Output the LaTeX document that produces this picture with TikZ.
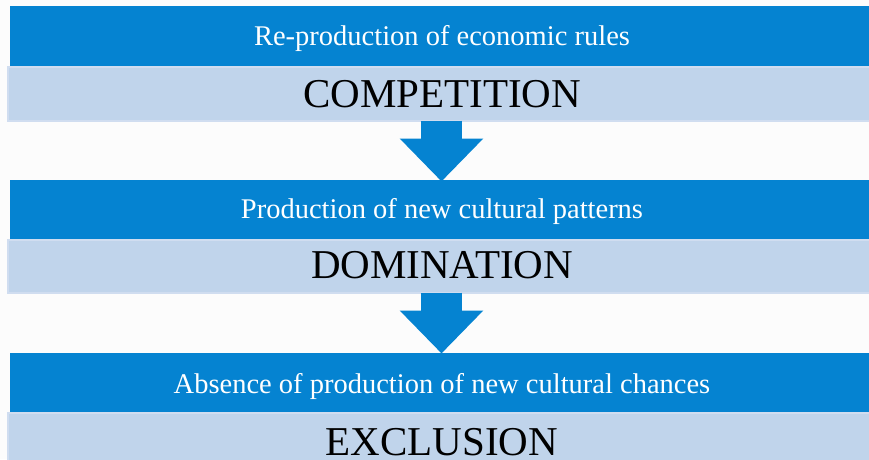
\documentclass[tikz,border=0pt]{standalone}
\usepackage{fontspec}
\setmainfont{Liberation Serif}
\usetikzlibrary{arrows.meta}
\definecolor{barblue}{RGB}{5,131,209}
\definecolor{barlight}{RGB}{192,212,235}
\definecolor{barline}{RGB}{208,221,240}
\definecolor{bg}{RGB}{252,252,252}
\tikzset{
  bluebar/.style={fill=barblue, draw=none, minimum width=864pt, inner sep=0pt, anchor=north},
  lightbar/.style={fill=barlight, draw=barline, line width=1.5pt, minimum width=868pt, inner sep=0pt, anchor=north},
  smalltext/.style={text=white, font=\fontsize{28.5}{30}\selectfont, anchor=base, inner sep=0pt},
  bigtext/.style={text=black, font=\fontsize{41}{44}\selectfont, anchor=base, inner sep=0pt},
  downarrow/.style={draw=barblue, line width=41pt, -{Triangle[width=81pt,length=43pt]}, shorten >=-0.5pt}
}
\begin{document}
\begin{tikzpicture}[x=1pt,y=-1pt]
\clip (0,0) rectangle (869,459);
\fill[bg] (0,0) rectangle (869,459);
% block 1
\node[lightbar, minimum height=54pt] (l1) at (442,66) {};
\node[bluebar, minimum height=60pt] (b1) at (442,6) {};
\node[smalltext] (t1) at (442,45) {Re-production of economic rules};
\node[bigtext] (c1) at (442,107) {COMPETITION};
% block 2
\node[lightbar, minimum height=53pt] (l2) at (442,239) {};
\node[bluebar, minimum height=59pt] (b2) at (442,180) {};
\node[smalltext] (t2) at (442,218) {Production of new cultural patterns};
\node[bigtext] (c2) at (442,278) {DOMINATION};
% block 3
\node[lightbar, minimum height=60pt] (l3) at (442,412) {};
\node[bluebar, minimum height=59pt] (b3) at (442,353) {};
\node[smalltext] (t3) at (442,393) {Absence of production of new cultural chances};
\node[bigtext] (c3) at (442,455) {EXCLUSION};
% arrows
\coordinate (a1s) at (441.5,120.5);
\coordinate (a1e) at (441.5,181);
\coordinate (a2s) at (441.5,292.5);
\coordinate (a2e) at (441.5,353);
\draw[downarrow] (a1s) -- (a1e);
\draw[downarrow] (a2s) -- (a2e);
\end{tikzpicture}
\end{document}
